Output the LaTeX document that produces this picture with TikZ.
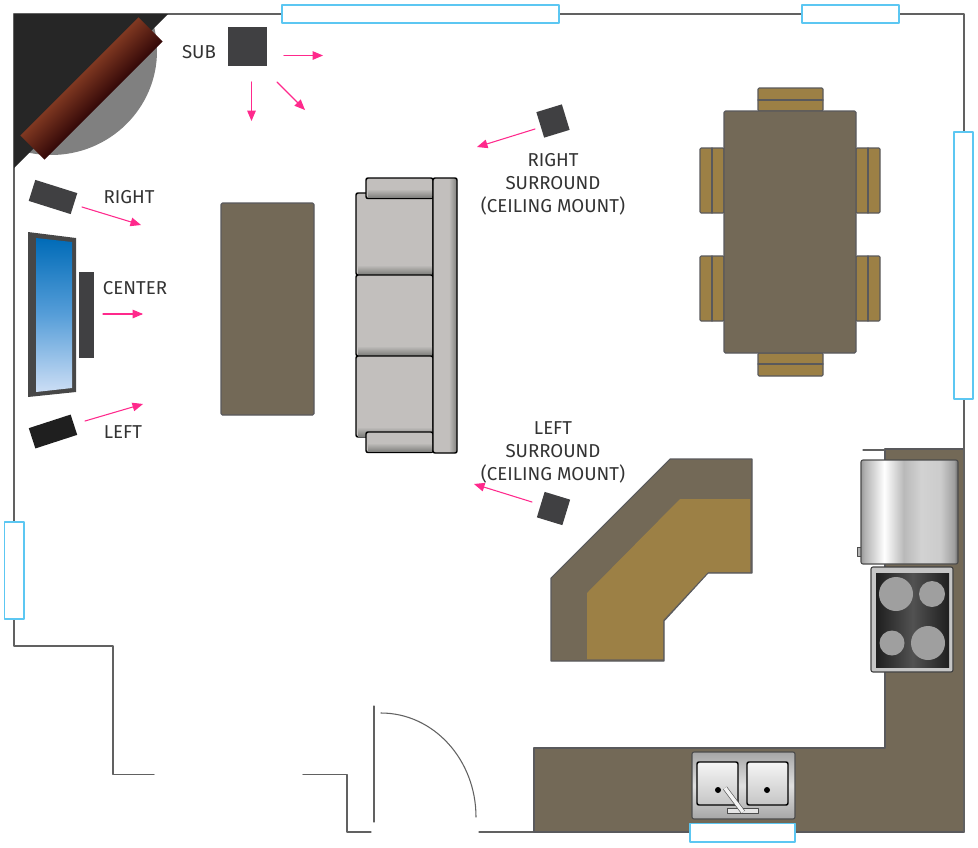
\documentclass[tikz,border=0pt]{standalone}
\usepackage{fontspec}
\setmainfont{Fira Sans}
\usetikzlibrary{arrows}
\definecolor{wallgray}{rgb}{0.38,0.38,0.38}
\definecolor{glassblue}{rgb}{0.36,0.78,0.95}
\definecolor{arrowpink}{rgb}{1,0.16,0.55}
\definecolor{spkgray}{rgb}{0.25,0.25,0.26}
\definecolor{topbrown}{rgb}{0.45,0.41,0.34}
\definecolor{woodtan}{rgb}{0.61,0.50,0.27}
\definecolor{edgegray}{rgb}{0.35,0.35,0.36}
\definecolor{sofagray}{rgb}{0.76,0.75,0.74}
\definecolor{sofadark}{rgb}{0.50,0.50,0.49}
\definecolor{mantellight}{rgb}{0.50,0.22,0.13}
\definecolor{manteldark}{rgb}{0.20,0.03,0.03}
\definecolor{screentop}{rgb}{0,0.42,0.72}
\definecolor{screenmid}{rgb}{0.34,0.62,0.85}
\definecolor{screenlow}{rgb}{0.80,0.87,0.96}
\pgfdeclarehorizontalshading{fridgeshade}{100bp}{color(0bp)=(gray!80);color(25bp)=(gray!80);color(27bp)=(gray!60!white);color(37bp)=(white);color(47bp)=(gray!55!white);color(56bp)=(gray!35!white);color(66bp)=(gray!40!white);color(73bp)=(gray!75!white);color(75bp)=(gray!80!black);color(100bp)=(gray!80!black)}
\pgfdeclarehorizontalshading{sofaback}{100bp}{color(0bp)=(sofagray);color(25bp)=(sofagray);color(58bp)=(sofagray);color(75bp)=(sofadark);color(100bp)=(sofadark)}
\tikzset{
  wall/.style={draw=wallgray,line width=0.8pt},
  winpane/.style={draw=glassblue,fill=white,line width=0.8pt},
  spkarrow/.style={->,draw=arrowpink,color=arrowpink,line width=0.8pt},
  speaker/.style={fill=spkgray,inner sep=0pt},
  lbl/.style={text=black!80,font=\fontsize{14}{17.25}\selectfont,align=center},
  wood/.style={draw=edgegray,fill=woodtan,line width=0.8pt,rounded corners=0.8pt},
  toppiece/.style={draw=edgegray,fill=topbrown,line width=0.8pt,rounded corners=1pt},
  sofapart/.style={draw=black,fill=sofagray,line width=1.1pt,rounded corners=1.5pt},
  burner/.style={fill=gray!75!white}
}
\begin{document}
\begin{tikzpicture}[line cap=round,line join=round,>=triangle 45,x=0.75pt,y=-0.75pt]
    \useasboundingbox (0,0) rectangle (978,847);
    % walls
    \draw[wall] (14,619) -- (14,646) -- (113,646) -- (113,774.5) -- (154,774.5);
    \draw[wall] (303,774.5) -- (347,774.5) -- (347,832) -- (371,832);
    \draw[wall] (479,832) -- (690,832);
    \draw[wall] (14,522) -- (14,14) -- (964,14) -- (964,450);
    % door
    \draw[wall] (374,706) -- (374,822);
    \draw[wall] (381,713) arc[start angle=90,end angle=0,x radius=95,y radius=-104];
    % corner
    \begin{scope}
    \clip (14,14) rectangle (170,170);
    \fill[gray] (51,51) ellipse (106 and 104);
    \end{scope}
    \fill[black!85] (14,14) -- (168,14) -- (14,168) -- cycle;
    \shade[transform canvas={shift={(91.5,88.5)},rotate=45},top color=mantellight,bottom color=manteldark] (-83.5,-17) rectangle (83.5,17);
    % kitchen counter
    \draw[toppiece,rounded corners=0pt] (885,449) -- (964,449) -- (964,832) -- (534,832) -- (534,748) -- (885,748) -- cycle;
    \draw[wall] (863,450) -- (885,450);
    \draw[wall] (964,399) -- (964,832);
    % fridge
    \draw[draw=black!70,fill=gray!60] (857,547) rectangle (861,556);
    \draw[shading=fridgeshade,draw=black!70,line width=0.8pt,rounded corners=1.5pt] (861,460) rectangle (958,564);
    % cooktop
    \draw[draw=black!75,fill=gray!45!white,line width=0.8pt,rounded corners=1.5pt] (871,567) rectangle (953,672);
    \shade[shading angle=45,left color=black!88,right color=black!88,middle color=black!68] (876,573) rectangle (949,667);
    \fill[burner] (896,594) circle (17);
    \fill[burner] (932,594) circle (13);
    \fill[burner] (892,643) circle (12.5);
    \fill[burner] (928,643) circle (17);
    % sink
    \draw[draw=black!70,top color=gray!70,bottom color=gray!70,middle color=gray!25!white,line width=0.8pt,rounded corners=1.5pt] (692,752) rectangle (795,819);
    \foreach \x in {697,747}
    \draw[draw=black,top color=gray!8!white,bottom color=gray!45!white,line width=1.1pt,rounded corners=1.5pt] (\x,762) rectangle (\x+41,805);
    \foreach \x in {718,767}
    \fill[black] (\x,790) circle (3);
    \draw[draw=black!70,fill=gray!20!white,line width=0.5pt] (727,808) rectangle (758,813);
    \draw[line width=3.6pt,draw=black!65,line cap=butt] (725,788) -- (743,812);
    \draw[line width=2.6pt,draw=gray!10!white,line cap=butt] (725,788) -- (743,812);
    % windows
    \draw[winpane] (282,5) rectangle (559,23);
    \draw[winpane] (802,5) rectangle (899,23);
    \draw[winpane] (954,132) rectangle (973,399);
    \draw[winpane] (4.5,522) rectangle (24,619);
    \draw[winpane] (690,823.5) rectangle (795,842);
    % tv and speakers
    \fill[black!72] (28,232) -- (76,238) -- (76,392) -- (28,397) -- cycle;
    \shade[top color=screentop,bottom color=screenlow,middle color=screenmid] (36,238) -- (72,242) -- (72,388) -- (36,392) -- cycle;
    \node (spkcenter) at (86.5,315) [speaker,minimum width=11.25pt,minimum height=64.5pt] {};
    \node (spkright) at (53,197) [speaker,rotate=-17.5,minimum width=33pt,minimum height=16.5pt] {};
    \node (spkleft) at (53,431.5) [speaker,fill=black!88,rotate=18,minimum width=33pt,minimum height=16pt] {};
    \node (spksub) at (247.5,46.5) [speaker,minimum width=29.5pt,minimum height=29.5pt] {};
    \node (spkrs) at (553,121) [speaker,rotate=17,minimum width=20pt,minimum height=20pt] {};
    \node (spkls) at (553.5,508.5) [speaker,rotate=-17,minimum width=20pt,minimum height=20pt] {};
    % coffee table
    \draw[toppiece] (221,203) rectangle (314,415);
    % sofa
    \foreach \y/\yy in {193/275,275/356,356/437} {
    \draw[sofapart] (356,\y) rectangle (433,\yy);
    \shade[top color=sofagray,bottom color=sofadark] (358,\yy-10) rectangle (432,\yy-1);
    }
    \foreach \y in {178,432} {
    \draw[sofapart] (366,\y) rectangle (433,\y+20.5);
    \shade[top color=sofagray,bottom color=sofadark] (368,\y+11) rectangle (432,\y+19.5);
    }
    \draw[sofapart,shading=sofaback] (433,178) rectangle (457,453);
    % dining set
    \foreach \y in {148,256} {
    \draw[wood] (700,\y) rectangle (724,\y+65);
    \draw[wood] (856,\y) rectangle (880,\y+65);
    \draw[draw=edgegray,line width=0.8pt] (712,\y) -- (712,\y+65);
    \draw[draw=edgegray,line width=0.8pt] (868,\y) -- (868,\y+65);
    }
    \draw[wood] (758,88) rectangle (823,111);
    \draw[wood] (758,353) rectangle (823,376);
    \draw[draw=edgegray,line width=0.8pt] (758,100) -- (823,100);
    \draw[draw=edgegray,line width=0.8pt] (758,364) -- (823,364);
    \draw[toppiece] (724,111) rectangle (856,353);
    % corner seat
    \draw[toppiece,rounded corners=0pt] (551,578) -- (670,459) -- (752,459) -- (752,573) -- (708,573) -- (664,621) -- (664,661) -- (551,661) -- cycle;
    \fill[woodtan] (587,593) -- (680,499) -- (750,499) -- (750,572) -- (708,572) -- (663,620) -- (663,659) -- (587,659) -- cycle;
    % arrows
    \coordinate (subA) at (284,55.5); \coordinate (subB) at (323,55.5);
    \coordinate (subC) at (251.5,82); \coordinate (subD) at (251.5,121);
    \coordinate (subE) at (277,82); \coordinate (subF) at (305,110);
    \coordinate (rightA) at (82,207); \coordinate (rightB) at (141,225);
    \coordinate (centerA) at (103,314); \coordinate (centerB) at (143,314);
    \coordinate (leftA) at (85,421); \coordinate (leftB) at (143,404);
    \coordinate (rsA) at (535,129); \coordinate (rsB) at (477,147);
    \coordinate (lsA) at (532,502); \coordinate (lsB) at (474,484);
    \foreach \a/\b in {subA/subB,subC/subD,subE/subF,rightA/rightB,centerA/centerB,leftA/leftB,rsA/rsB,lsA/lsB}
    \draw[spkarrow] (\a) -- (\b);
    % labels
    \node (lblsub) at (199,52) [lbl] {SUB};
    \node (lblright) at (129,197) [lbl] {RIGHT};
    \node (lblcenter) at (135,288) [lbl] {CENTER};
    \node (lblleft) at (123,432) [lbl] {LEFT};
    \node (lblrs) at (553,184) [lbl] {RIGHT\\SURROUND\\(CEILING MOUNT)};
    \node (lblls) at (553,452) [lbl] {LEFT\\SURROUND\\(CEILING MOUNT)};
\end{tikzpicture}
\end{document}
